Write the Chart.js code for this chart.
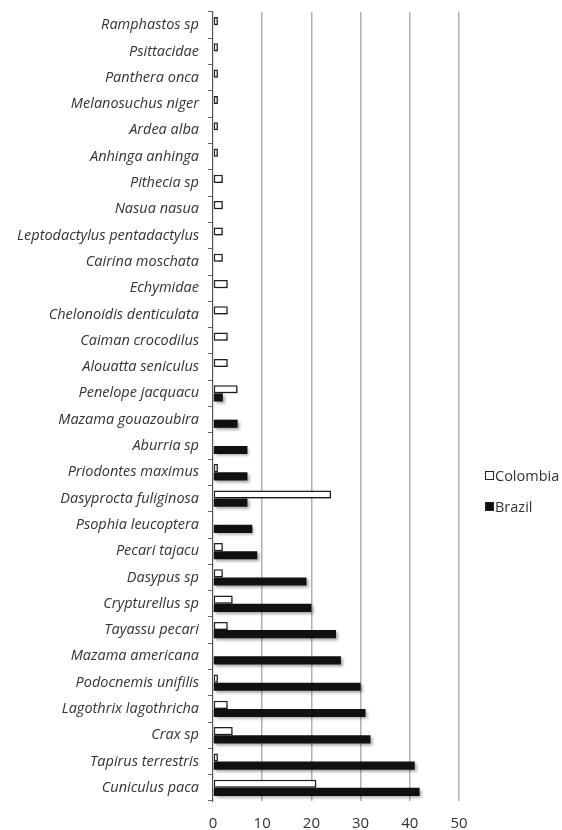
<!DOCTYPE html>
<html>
<head>
<meta charset="utf-8">
<script src="https://cdn.jsdelivr.net/npm/chart.js@4"></script>
<style>
  body { margin: 0; background: #fff; }
  #wrap { position: relative; width: 562px; height: 830px; }
  #legend { position: absolute; left: 485px; top: 464px; font-family: 'Open Sans', sans-serif; font-size: 14.5px; color: #333; }
  #legend div { height: 24px; line-height: 24px; margin-bottom: 7px; white-space: nowrap; }
  #legend span { display: inline-block; width: 7px; height: 7px; border: 1px solid #222; margin-right: 1px; vertical-align: 1px; }
</style>
</head>
<body>
<div id="wrap">
  <canvas id="chart"></canvas>
  <div id="legend">
    <div><span style="background:#fff"></span>Colombia</div>
    <div><span style="background:#111"></span>Brazil</div>
  </div>
</div>
<script>
const species = [
  'Ramphastos sp', 'Psittacidae', 'Panthera onca', 'Melanosuchus niger', 'Ardea alba',
  'Anhinga anhinga', 'Pithecia sp', 'Nasua nasua', 'Leptodactylus pentadactylus', 'Cairina moschata',
  'Echymidae', 'Chelonoidis denticulata', 'Caiman crocodilus', 'Alouatta seniculus', 'Penelope jacquacu',
  'Mazama gouazoubira', 'Aburria sp', 'Priodontes maximus', 'Dasyprocta fuliginosa', 'Psophia leucoptera',
  'Pecari tajacu', 'Dasypus sp', 'Crypturellus sp', 'Tayassu pecari', 'Mazama americana',
  'Podocnemis unifilis', 'Lagothrix lagothricha', 'Crax sp', 'Tapirus terrestris', 'Cuniculus paca'
];
const colombia = [1, 1, 1, 1, 1, 1, 2, 2, 2, 2, 3, 3, 3, 3, 5, 0, 0, 1, 24, 0, 2, 2, 4, 3, 0, 1, 3, 4, 1, 21];
const brazil   = [0, 0, 0, 0, 0, 0, 0, 0, 0, 0, 0, 0, 0, 0, 2, 5, 7, 7, 7, 8, 9, 19, 20, 25, 26, 30, 31, 32, 41, 42];
const xTicks = [0, 10, 20, 30, 40, 50];

// soft shadow under the bars, like the original
const barShadow = {
  id: 'barShadow',
  beforeDatasetsDraw(chart) {
    const ctx = chart.ctx;
    ctx.save();
    ctx.shadowColor = 'rgba(0,0,0,0.35)';
    ctx.shadowBlur = 3;
    ctx.shadowOffsetX = 2;
    ctx.shadowOffsetY = 2;
  },
  afterDatasetsDraw(chart) {
    chart.ctx.restore();
  }
};

const ctx = document.getElementById('chart').getContext('2d');
new Chart(ctx, {
  type: 'bar',
  data: {
    labels: species,
    datasets: [{
      label: 'Colombia',
      data: colombia,
      backgroundColor: '#ffffff',
      borderColor: '#222222',
      borderWidth: 1.5,
      borderSkipped: false
    }, {
      label: 'Brazil',
      data: brazil,
      backgroundColor: '#111111',
      borderWidth: 0
    }]
  },
  options: {
    indexAxis: 'y',
    responsive: true,
    maintainAspectRatio: false,
    animation: false,
    layout: { padding: { top: 12, right: 103, bottom: 0, left: 0 } },
    datasets: { bar: { barPercentage: 1, categoryPercentage: 0.62 } },
    plugins: {
      legend: { display: false },
      tooltip: { enabled: false }
    },
    scales: {
      x: {
        min: 0,
        max: 50,
        afterBuildTicks: scale => { scale.ticks = xTicks.map(v => ({ value: v })); },
        afterFit: scale => { scale.height = 29; },
        grid: {
          color: c => c.tick.value === 0 ? 'rgba(0,0,0,0)' : '#b0b0b0',
          lineWidth: 1.5,
          drawTicks: false
        },
        border: { display: false },
        ticks: {
          color: '#333',
          padding: 14,
          font: { family: 'Open Sans', size: 15 }
        }
      },
      y: {
        afterFit: scale => {
          scale.width = 213;
          // labels sit in the middle of each category, no extra room needed
          scale.paddingTop = 0;
          scale.paddingBottom = 0;
        },
        grid: {
          drawOnChartArea: false,
          drawTicks: true,
          tickLength: 5,
          color: '#666'
        },
        border: { display: true, color: '#555', width: 1.2 },
        ticks: {
          color: '#333',
          padding: 9,
          autoSkip: false,
          font: { family: 'Open Sans', size: 14.5, style: 'italic' }
        }
      }
    }
  },
  plugins: [barShadow]
});
</script>
</body>
</html>
